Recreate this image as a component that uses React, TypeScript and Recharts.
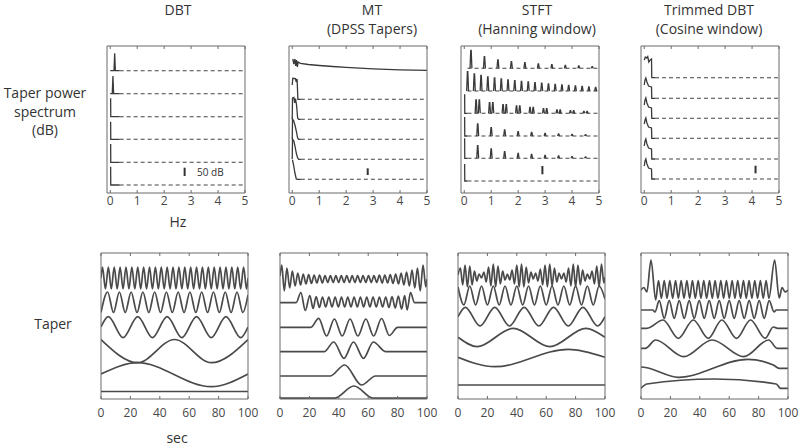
import React from 'react';
import { LineChart, Line, XAxis, YAxis } from 'recharts';

type Pt = [number, number | null];

const FONT = '"Open Sans", "Noto Sans", Arial, sans-serif';
const INK = '#3a3a3a';
const TAPER = '#4a4a4a';
const FRAME = '#6a6a6a';

const hzTicks = [0, 1, 2, 3, 4, 5];
const secTicks = [0, 20, 40, 60, 80, 100];
const hzDomain: [number, number] = [-0.12, 5];
const secDomain: [number, number] = [0, 100];
const specRange: [number, number] = [0, 147];
const taperRange: [number, number] = [0, 146];

// ---------------- top row: taper power spectra (x: Hz, y: stacked dB units) ----------------
const dbtSpec: Pt[][] = [
  [[0, 122.3], [0.14, 122.3], [0.165, 139.7], [0.19, 122.3], [0.35, 122.3]],
  [[0, 99.3], [0.075, 99.3], [0.1, 117], [0.125, 99.3], [0.35, 99.3]],
  [[0.015, 94.7], [0.02, 76.3], [0.35, 76.3]],
  [[0.015, 71.3], [0.02, 53.7], [0.35, 53.7]],
  [[0.015, 49], [0.02, 30.7], [0.35, 30.7]],
  [[0.015, 26.3], [0.02, 8], [0.35, 8]],
];
const dbtFloor = [122.3, 99.3, 76.3, 53.7, 30.7, 8];
const dbtBar: Pt[] = [[2.76, 17], [2.76, 25.3]];

const mtSpec: Pt[][] = [
  [[0.02, 134], [0.06, 129], [0.1, 134], [0.13, 127], [0.16, 133], [0.19, 126], [0.22, 131], [0.3, 129.7], [0.6, 128.5], [1, 127.5], [1.5, 126.5], [2, 125.6], [2.5, 124.8], [3, 124.2], [3.5, 123.7], [4, 123.2], [4.5, 122.9], [5, 122.7]],
  [[0, 108], [0.02, 114.7], [0.12, 114.5], [0.15, 111], [0.18, 114], [0.21, 93.7], [0.32, 93.7]],
  [[0, 73.7], [0.01, 95], [0.06, 95.5], [0.09, 90], [0.12, 94.5], [0.16, 88], [0.2, 75], [0.24, 73.7], [0.32, 73.7]],
  [[0, 53.7], [0.01, 74], [0.05, 72.5], [0.1, 68], [0.15, 62], [0.2, 55], [0.24, 53.7], [0.32, 53.7]],
  [[0, 33.7], [0.01, 54], [0.06, 52], [0.1, 47], [0.15, 40], [0.2, 35], [0.24, 33.7], [0.32, 33.7]],
  [[0.01, 33], [0.05, 28], [0.1, 20], [0.15, 14], [0.2, 13.7], [0.32, 13.7]],
];
const mtFloor = [93.7, 73.7, 53.7, 33.7, 13.7];
const mtBar: Pt[] = [[2.8, 18], [2.8, 24.7]];

const stftFloor = [124.7, 102, 79.7, 57, 34.7, 12];
const stftPeaks: [number, number][][] = [
  [[0.25, 18], [0.75, 11.6], [1.25, 8.3], [1.75, 6.6], [2.25, 5.6], [2.75, 4.3], [3.25, 3.7], [3.75, 3], [4.25, 2.3], [4.75, 1.7]],
  [[0.125, 19.3], [0.375, 17], [0.625, 15.5], [0.875, 14], [1.125, 13], [1.375, 12], [1.625, 11], [1.875, 10.3], [2.125, 9.6], [2.375, 9], [2.625, 8.4], [2.875, 7.8], [3.125, 7.2], [3.375, 6.7], [3.625, 6.2], [3.875, 5.7], [4.125, 5.2], [4.375, 4.7], [4.625, 4.2], [4.875, 3.7]],
  [[0, 19], [0.44, 13.3], [0.56, 13.3], [0.94, 10.7], [1.06, 10.7], [1.44, 8.7], [1.56, 8.7], [1.94, 7.3], [2.06, 7.3], [2.44, 6], [2.56, 6], [2.94, 4.7], [3.06, 4.7], [3.44, 3.3], [3.56, 3.3], [3.94, 2.7], [4.06, 2.7], [4.44, 2], [4.56, 2]],
  [[0, 19], [0.5, 12], [1, 8.3], [1.5, 6], [2, 4.3], [2.5, 3.7], [3, 2.7], [3.5, 2], [4, 1.7], [4.5, 1.3]],
  [[0, 20], [0.5, 12.7], [1, 9.3], [1.5, 6.7], [2, 5], [2.5, 4], [3, 3], [3.5, 2.3], [4, 1.7], [4.5, 1.3]],
  [[0, 17]],
];
const stftBar: Pt[] = [[2.9, 18.7], [2.9, 27]];

const trimSpec: Pt[][] = [
  [[0, 133], [0.04, 136], [0.09, 135], [0.13, 136.5], [0.17, 131], [0.22, 133], [0.27, 134], [0.28, 115.3], [0.4, 115.3]],
  [[0, 108], [0.03, 113], [0.06, 115], [0.1, 111], [0.16, 107], [0.27, 106], [0.28, 94.7], [0.4, 94.7]],
  [[0, 88], [0.03, 93], [0.06, 95], [0.1, 90], [0.16, 86], [0.27, 85], [0.28, 74.7], [0.4, 74.7]],
  [[0, 69], [0.03, 73], [0.06, 75], [0.1, 70], [0.16, 66], [0.27, 65], [0.28, 54.7], [0.4, 54.7]],
  [[0, 47], [0.03, 52], [0.06, 54], [0.1, 49], [0.16, 45], [0.27, 44], [0.28, 34], [0.4, 34]],
  [[0, 27], [0.03, 32], [0.06, 34], [0.1, 29], [0.16, 25], [0.27, 24], [0.28, 14], [0.4, 14]],
];
const trimFloor = [115.3, 94.7, 74.7, 54.7, 34, 14];
const trimBar: Pt[] = [[4.13, 19.7], [4.13, 27.3]];

// ---------------- bottom row: tapers (x: sec, y: stacked units) ----------------
const dbtTaper: Pt[][] = [
  [[0, 121], [1, 132], [3, 110], [5, 132], [7, 110], [9, 132], [11, 110], [13, 132], [15, 110], [17, 132], [19, 110], [21, 132], [23, 110], [25, 132], [27, 110], [29, 132], [31, 110], [33, 132], [35, 110], [37, 132], [39, 110], [41, 132], [43, 110], [45, 132], [47, 110], [49, 132], [51, 110], [53, 132], [55, 110], [57, 132], [59, 110], [61, 132], [63, 110], [65, 132], [67, 110], [69, 132], [71, 110], [73, 132], [75, 110], [77, 132], [79, 110], [81, 132], [83, 110], [85, 132], [87, 110], [89, 132], [91, 110], [93, 132], [95, 110], [97, 132], [99, 110], [100, 121]],
  [[0, 86.5], [4.5, 107], [8.5, 86.5], [12.5, 107], [16.5, 86.5], [20.5, 107], [24.5, 86.5], [28.5, 107], [32.5, 86.5], [36.5, 107], [40.5, 86.5], [44.5, 107], [48.5, 86.5], [52.5, 107], [56.5, 86.5], [60.5, 107], [64.5, 86.5], [68.5, 107], [72.5, 86.5], [76.5, 107], [80.5, 86.5], [84.5, 107], [88.5, 86.5], [92.5, 107], [96.5, 86.5], [100, 104]],
  [[0, 72], [5, 82.3], [15, 61.3], [25, 82.3], [35, 61.3], [45, 82.3], [55, 61.3], [65, 82.3], [75, 61.3], [85, 82.3], [95, 61.3], [100, 72]],
  [[0, 59.5], [25, 36.3], [50, 59.5], [75, 36.3], [100, 59.5]],
  [[0, 25], [25, 36.3], [75, 12.3], [100, 25]],
  [[0, 7.5], [100, 7.5]],
];

const mtTaper: Pt[][] = [
  [[0, 123], [1.2, 134], [2.9, 108], [4.7, 131], [6.6, 111], [8.4, 128], [10.3, 113], [12.1, 126], [14, 114], [15.8, 125], [17.7, 115], [19.5, 124.5], [21.4, 115.5], [23.2, 124], [25.1, 116], [26.9, 124], [28.8, 116], [30.6, 123.5], [32.5, 116.5], [34.3, 123.5], [36.2, 116.5], [38, 123.5], [39.9, 116.5], [41.7, 123.5], [43.6, 116.5], [45.4, 123.5], [47.3, 116.5], [49.1, 123.5], [51, 116.5], [52.8, 123.5], [54.7, 116.5], [56.5, 123.5], [58.4, 116.5], [60.2, 123.5], [62.1, 116.5], [63.9, 123.5], [65.8, 116.5], [67.6, 124], [69.5, 116], [71.3, 124], [73.2, 116], [75, 124.5], [76.9, 115.5], [78.7, 125], [80.6, 115], [82.4, 126], [84.3, 114], [86.1, 127], [88, 113], [89.8, 129], [91.7, 111], [93.5, 131], [95.4, 108], [97.3, 134], [99.2, 112], [100, 120]],
  [[0, 96.3], [11, 96.3], [14.2, 106.5], [17.2, 88.5], [20.3, 103.5], [22.5, 90.5], [24.6, 102.5], [26.8, 91.5], [28.9, 102], [31.1, 92], [33.2, 102], [35.4, 92], [37.5, 102], [39.7, 92], [41.8, 102], [44, 92], [46.1, 102], [48.3, 92], [50.4, 102], [52.6, 92], [54.7, 102], [56.9, 92], [59, 102], [61.2, 92], [63.3, 102], [65.5, 92], [67.6, 102], [69.8, 92], [71.9, 102], [74.1, 91.5], [76.2, 102.5], [78.4, 91], [80.5, 103], [82.7, 90], [84.8, 103.5], [86.5, 89], [88.8, 106.5], [91.5, 96.3], [100, 96.3]],
  [[0, 71.7], [21, 71.7], [26.3, 80.7], [31.7, 63], [37, 80], [42.3, 63], [47.7, 80], [53, 63], [58.4, 80], [63.7, 63], [69.1, 80.5], [74.4, 63.5], [80, 71.7], [100, 71.7]],
  [[0, 47.3], [30, 47.3], [36.6, 57], [43.5, 40.7], [50, 57], [56.8, 40.7], [63.5, 57], [72, 47.3], [100, 47.3]],
  [[0, 23], [34, 23], [44, 34], [55.5, 14], [65, 23], [100, 23]],
  [[0, 0.8], [37, 0.8], [50.3, 13], [63.5, 0.8], [100, 0.8]],
];

const stftTaper: Pt[][] = [
  [[0, 124], [1.6, 131], [3.2, 114], [4.8, 134], [6.4, 112], [8, 133], [9.6, 114], [11.2, 128], [12.8, 118], [14.4, 125], [16, 121], [17.6, 127], [19.2, 117], [20.8, 132], [22.4, 113], [24, 135], [25.6, 112], [27.2, 133], [28.8, 115], [30.4, 128], [32, 119], [33.6, 125], [35.2, 119], [36.8, 129], [38.4, 115], [40, 134], [41.6, 112], [43.2, 135], [44.8, 112], [46.4, 132], [48, 116], [49.6, 127], [51.2, 120], [52.8, 126], [54.4, 118], [56, 130], [57.6, 114], [59.2, 134], [60.8, 112], [62.4, 135], [64, 113], [65.6, 131], [67.2, 117], [68.8, 126], [70.4, 120], [72, 126], [73.6, 117], [75.2, 131], [76.8, 113], [78.4, 135], [80, 112], [81.6, 134], [83.2, 114], [84.8, 129], [86.4, 118], [88, 125], [89.6, 120], [91.2, 128], [92.8, 115], [94.4, 133], [96, 112], [97.6, 135], [99.2, 116], [100, 122]],
  [[0, 112], [4, 94], [8, 113], [12, 94], [16, 113], [20, 94], [24, 113], [28, 94], [32, 113], [36, 94], [40, 113], [44, 94], [48, 113], [52, 94], [56, 113], [60, 94], [64, 113], [68, 94], [72, 113], [76, 94], [80, 113], [84, 94], [88, 113], [92, 94], [96, 113], [100, 100]],
  [[0, 82.3], [5, 91.7], [15, 73], [25, 91.7], [35, 73], [45, 91.7], [55, 73], [65, 91.7], [75, 73], [85, 91.7], [95, 73], [100, 82.3]],
  [[0, 61.7], [13, 52.3], [37.6, 70.7], [62.5, 52.3], [87, 70.7], [100, 61.7]],
  [[0, 41.7], [25, 32.3], [75, 49.7], [100, 41.7]],
  [[0, 14], [100, 14]],
];

const trimTaper: Pt[][] = [
  [[0, 109], [2, 111.5], [4, 107], [6.8, 139], [10, 99], [11.9, 118.3], [13.85, 100.7], [15.8, 118.3], [17.7, 100.7], [19.6, 118.3], [21.55, 100.7], [23.5, 118.3], [25.4, 100.7], [27.3, 118.3], [29.25, 100.7], [31.2, 118.3], [33.1, 100.7], [35, 118.3], [36.95, 100.7], [38.9, 118.3], [40.8, 100.7], [42.7, 118.3], [44.65, 100.7], [46.6, 118.3], [48.5, 100.7], [50.4, 118.3], [52.35, 100.7], [54.3, 118.3], [56.2, 100.7], [58.1, 118.3], [60.05, 100.7], [62, 118.3], [63.9, 100.7], [65.8, 118.3], [67.75, 100.7], [69.7, 118.3], [71.6, 100.7], [73.5, 118.3], [75.45, 100.7], [77.4, 118.3], [79.3, 100.7], [81.2, 118.3], [83.15, 100.7], [85.1, 118.3], [87, 100.7], [90.9, 139], [94, 101], [96, 111.5], [98, 107], [100, 109]],
  [[0, 89], [8, 89], [9.5, 87], [12.4, 98.3], [15.8, 80.7], [19.2, 98.3], [22.6, 80.7], [26, 98.3], [29.4, 80.7], [32.8, 98.3], [36.2, 80.7], [39.6, 98.3], [43, 80.7], [46.4, 98.3], [49.8, 80.7], [53.2, 98.3], [56.6, 80.7], [60, 98.3], [63.4, 80.7], [66.8, 98.3], [70.2, 80.7], [73.6, 98.3], [77, 80.7], [80.4, 98.3], [83.8, 80.7], [87.2, 98.3], [90.5, 87], [92, 89], [100, 89]],
  [[0, 70.7], [4, 70.7], [15, 79], [25.4, 60.7], [35.6, 79], [45.8, 60.7], [55, 79], [65, 60.7], [74.5, 79], [84.5, 60.7], [90, 72], [93, 70.7], [100, 70.7]],
  [[0, 50.7], [3, 50.7], [9.9, 59], [29.1, 42.3], [48.4, 59], [69.9, 42.3], [86.9, 59], [92.6, 50.7], [100, 50.7]],
  [[0, 32], [3, 31.5], [25.4, 21.7], [72.6, 39.7], [90, 34], [94, 30.7], [100, 30.7]],
  [[0, 10.7], [4, 15], [50, 20], [92, 15], [95, 10.7], [100, 10.7]],
];

// ---------------- helpers ----------------
type S = { pts: Pt[]; dash?: boolean; curve?: 'monotone' | 'linear'; sw?: number; color?: string };

const solid = (list: Pt[][], curve: 'monotone' | 'linear', color: string, sw: number): S[] =>
  list.map((pts) => ({ pts, curve, color, sw }));

const floors = (levels: number[], start: number): S[] =>
  levels.map((l) => ({ pts: [[start, l], [5, l]] as Pt[], dash: true, color: '#444', sw: 1.1 }));

const spikes = (base: number, peaks: [number, number][]): Pt[] => {
  const out: Pt[] = [];
  peaks.forEach(([f, h]) => {
    if (f === 0) {
      out.push([0.015, base + h], [0.02, base], [0.12, base], [0.13, null]);
    } else {
      out.push([f - 0.035, base], [f - 0.008, base + h], [f + 0.008, base + h], [f + 0.035, base], [f + 0.04, null]);
    }
  });
  return out;
};

type PanelProps = {
  left: number; top: number; w: number; h: number;
  xDomain: [number, number]; xTicks: number[]; yDomain: [number, number];
  series: S[]; labelGap: number;
};

function Panel({ left, top, w, h, xDomain, xTicks, yDomain, series, labelGap }: PanelProps) {
  const mL = 16, mR = 16, mT = 8, mB = 26;
  const A = 1; // axis thickness reserved in layout
  const bottomTick = (p: any) => (
    <g>
      <line x1={p.x} x2={p.x} y1={p.y} y2={p.y - 3} stroke={FRAME} strokeWidth={1} />
      <text x={p.x} y={p.y + labelGap} textAnchor="middle" fontSize={12} fill="#484848" fontFamily={FONT}>
        {p.payload.value}
      </text>
    </g>
  );
  const topTick = (p: any) => <line x1={p.x} x2={p.x} y1={p.y} y2={p.y + 3} stroke={FRAME} strokeWidth={1} />;
  return (
    <div style={{ position: 'absolute', left: left - mL, top: top - mT }}>
      <LineChart width={w + mL + mR} height={h + mT + mB} margin={{ top: mT - A, right: mR - A, bottom: mB - A, left: mL - A }}>
        <XAxis xAxisId="b" type="number" dataKey="x" domain={xDomain} ticks={xTicks} allowDataOverflow interval={0}
          height={A} tickSize={0} tickMargin={0} tickLine={false} axisLine={{ stroke: FRAME }} tick={bottomTick} />
        <XAxis xAxisId="t" orientation="top" type="number" dataKey="x" domain={xDomain} ticks={xTicks} allowDataOverflow interval={0}
          height={A} tickSize={0} tickMargin={0} tickLine={false} axisLine={{ stroke: FRAME }} tick={topTick} />
        <YAxis yAxisId="l" type="number" domain={yDomain} allowDataOverflow width={A} tickLine={false} tick={false} axisLine={{ stroke: FRAME }} />
        <YAxis yAxisId="r" orientation="right" type="number" domain={yDomain} allowDataOverflow width={A} tickLine={false} tick={false} axisLine={{ stroke: FRAME }} />
        {series.map((s, i) => (
          <Line key={i} xAxisId="b" yAxisId="l" data={s.pts.map(([x, y]) => ({ x, y }))} dataKey="y"
            type={s.curve || 'linear'} stroke={s.color || INK} strokeWidth={s.sw || 1.2}
            strokeDasharray={s.dash ? '4 3' : undefined} dot={false} activeDot={false}
            isAnimationActive={false} connectNulls={false} />
        ))}
      </LineChart>
    </div>
  );
}

const txt = (x: number, y: number, s: string, size = 14, anchor: 'middle' | 'start' = 'middle') => (
  <text key={s + x + y} x={x} y={y} fontSize={size} textAnchor={anchor} fill="#333" fontFamily={FONT}>{s}</text>
);

export default function App() {
  const bar = (pts: Pt[]): S => ({ pts, color: '#333', sw: 2 });
  const topPanels: { left: number; series: S[] }[] = [
    { left: 107, series: [...floors(dbtFloor, 0.35), ...solid(dbtSpec, 'linear', INK, 1.3), bar(dbtBar)] },
    { left: 289, series: [...floors(mtFloor, 0.32), ...solid(mtSpec, 'linear', INK, 1.3), bar(mtBar)] },
    { left: 461, series: [...floors(stftFloor, 0.12), ...stftPeaks.map((p, i) => ({ pts: spikes(stftFloor[i], p), color: INK, sw: 1.3 })), bar(stftBar)] },
    { left: 641, series: [...floors(trimFloor, 0.4), ...solid(trimSpec, 'linear', INK, 1.3), bar(trimBar)] },
  ];
  const bottomPanels: { left: number; series: S[] }[] = [
    { left: 101, series: solid(dbtTaper, 'monotone', TAPER, 1.7) },
    { left: 280, series: solid(mtTaper, 'monotone', TAPER, 1.7) },
    { left: 458, series: solid(stftTaper, 'monotone', TAPER, 1.7) },
    { left: 641, series: solid(trimTaper, 'monotone', TAPER, 1.7) },
  ];
  return (
    <div style={{ position: 'absolute', left: 0, top: 0, width: 800, height: 448, background: '#fff', overflow: 'hidden' }}>
      {topPanels.map((p, i) => (
        <Panel key={'t' + i} left={p.left} top={46} w={138} h={147} xDomain={hzDomain} xTicks={hzTicks} yDomain={specRange} series={p.series} labelGap={12} />
      ))}
      {bottomPanels.map((p, i) => (
        <Panel key={'b' + i} left={p.left} top={253} w={147} h={146} xDomain={secDomain} xTicks={secTicks} yDomain={taperRange} series={p.series} labelGap={18} />
      ))}
      <svg width={800} height={448} style={{ position: 'absolute', left: 0, top: 0, pointerEvents: 'none' }}>
        {txt(178, 15, 'DBT')}
        {txt(372, 15, 'MT')}
        {txt(372, 34, '(DPSS Tapers)')}
        {txt(537, 15, 'STFT')}
        {txt(537, 34, '(Hanning window)')}
        {txt(709, 15, 'Trimmed DBT')}
        {txt(709, 34, '(Cosine window)')}
        {txt(45, 98, 'Taper power')}
        {txt(45, 117, 'spectrum')}
        {txt(45, 135, '(dB)')}
        {txt(53, 329, 'Taper')}
        {txt(178, 227, 'Hz')}
        {txt(177, 443, 'sec')}
        {txt(197, 176, '50 dB', 10, 'start')}
      </svg>
    </div>
  );
}
